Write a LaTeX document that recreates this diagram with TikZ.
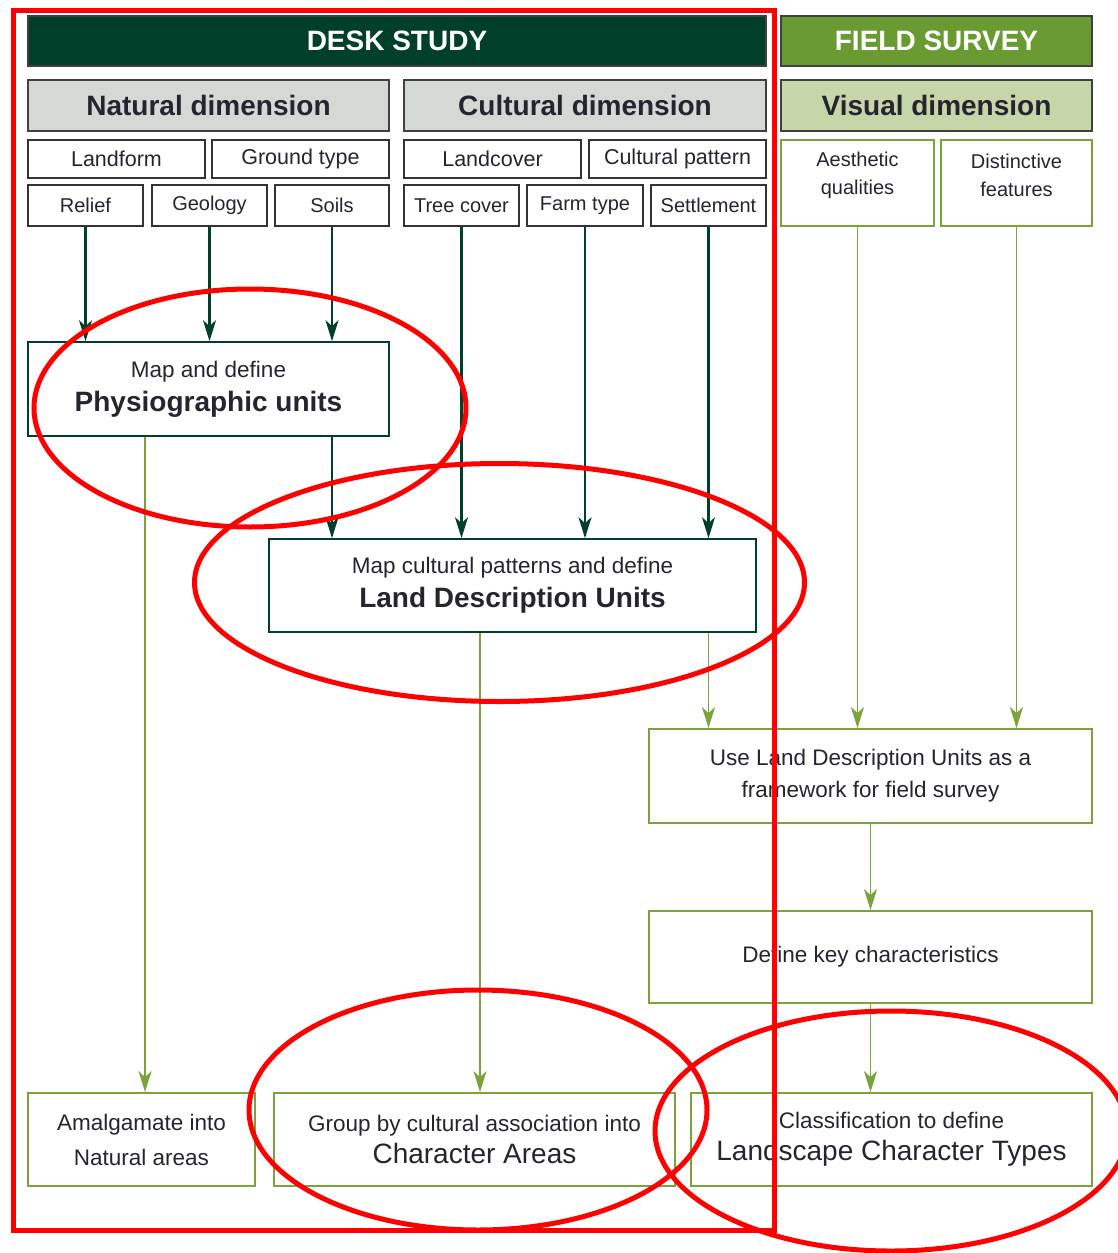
\documentclass[tikz,border=0pt]{standalone}
\usepackage{fontspec}
\setmainfont{Liberation Sans}
\usetikzlibrary{arrows.meta}
\definecolor{dkgreen}{HTML}{00402A}
\definecolor{fgreen}{HTML}{6A9A32}
\definecolor{lgreen}{HTML}{C6D6A8}
\definecolor{lgrey}{HTML}{D4D9D6}
\definecolor{lngreen}{HTML}{7AA33E}
\definecolor{txt}{HTML}{25252F}
\definecolor{redmark}{HTML}{FF0000}
\tikzset{
  hdr/.style={draw=black!75, line width=1.8pt, inner sep=0pt, font=\fontsize{28}{30}\selectfont\bfseries},
  deskbox/.style={hdr, fill=dkgreen, text=white},
  fieldbox/.style={hdr, fill=fgreen, text=white},
  dimbox/.style={hdr, fill=lgrey, text=txt},
  visbox/.style={hdr, fill=lgreen, text=txt},
  cellbox/.style={draw=black!80, line width=1.6pt, fill=white, inner sep=0pt, text=txt, font=\fontsize{21.5}{24}\selectfont},
  subbox/.style={cellbox, font=\fontsize{20}{24}\selectfont},
  gcell/.style={draw=lngreen, line width=1.8pt, fill=white, inner sep=0pt},
  gtext/.style={inner sep=0pt, text=txt, align=center, font=\fontsize{20}{28}\selectfont},
  gbox/.style={draw=lngreen, line width=1.8pt, fill=white, inner sep=0pt, text=txt, align=center, font=\fontsize{22.5}{32}\selectfont},
  dbox/.style={draw=dkgreen, line width=1.6pt, fill=white, inner sep=0pt, text=txt, align=center},
  darr/.style={draw=dkgreen, line width=2.2pt, -{Stealth[length=21pt,width=13pt,inset=6pt]}},
  garr/.style={draw=lngreen, line width=1.9pt, -{Stealth[length=21pt,width=13pt,inset=6pt]}},
  redline/.style={draw=redmark, line width=5pt}
}
\begin{document}
\begin{tikzpicture}[x=1pt,y=-1pt]
\useasboundingbox[fill=white] (0,0) rectangle (1118,1253);

% headers
\node[deskbox, minimum width=738pt, minimum height=50pt] (desk) at (397,41) {DESK STUDY};
\node[fieldbox, minimum width=311pt, minimum height=50pt] (field) at (936.5,41) {FIELD SURVEY};
\node[dimbox, minimum width=361pt, minimum height=51pt] (nat) at (208.5,105.5) {Natural dimension};
\node[dimbox, minimum width=362pt, minimum height=51pt] (cul) at (585,105.5) {Cultural dimension};
\node[visbox, minimum width=311pt, minimum height=51pt] (vis) at (936.5,105.5) {Visual dimension};

% first row of cells
\node[cellbox, minimum width=177pt, minimum height=38pt] (landform) at (116.5,159) {Landform};
\node[cellbox, minimum width=177pt, minimum height=38pt] (ground) at (300.5,159) {Ground type};
\node[cellbox, minimum width=177pt, minimum height=38pt] (landcover) at (492.5,159) {Landcover};
\node[cellbox, minimum width=177pt, minimum height=38pt] (culpat) at (677.5,159) {Cultural pattern};

% second row of cells
\node[subbox, minimum width=115pt, minimum height=41pt] (relief) at (85.5,205.5) {Relief};
\node[subbox, minimum width=115pt, minimum height=41pt] (geology) at (209.5,205.5) {Geology};
\node[subbox, minimum width=114pt, minimum height=41pt] (soils) at (332,205.5) {Soils};
\node[subbox, minimum width=115pt, minimum height=41pt] (tree) at (461.5,205.5) {Tree cover};
\node[subbox, minimum width=116pt, minimum height=41pt] (farm) at (585,205.5) {Farm type};
\node[subbox, minimum width=115pt, minimum height=41pt] (settle) at (708.5,205.5) {Settlement};

% visual cells
\node[gcell, minimum width=153pt, minimum height=86pt] (aesth) at (857.5,183) {};
\node[gtext] (aesthtxt) at (857.5,175) {Aesthetic\\qualities};
\node[gcell, minimum width=151pt, minimum height=86pt] (dist) at (1016.5,183) {};
\node[gtext] (disttxt) at (1016.5,175) {Distinctive\\features};

% process boxes
\node[dbox, minimum width=361pt, minimum height=94pt] (physio) at (208.5,389)
  {\fontsize{22.5}{30}\selectfont Map and define\\[8pt]\fontsize{28}{30}\selectfont\bfseries Physiographic units};
\node[dbox, minimum width=487pt, minimum height=93pt] (ldu) at (512.5,585.5)
  {\fontsize{22.5}{30}\selectfont Map cultural patterns and define\\[8pt]\fontsize{28}{30}\selectfont\bfseries Land Description Units};
\node[gbox, minimum width=443pt, minimum height=94pt] (use) at (870.5,776)
  {Use Land Description Units as a\\framework for field survey};
\node[gbox, minimum width=443pt, minimum height=92pt] (define) at (870.5,957)
  {Define key characteristics};
\node[gbox, minimum width=227pt, minimum height=93pt] (amal) at (141.5,1139.5)
  {Amalgamate into\\[3pt]Natural areas};
\node[gbox, minimum width=401pt, minimum height=93pt] (group) at (474.5,1139.5)
  {Group by cultural association into\\{\fontsize{28}{30}\selectfont Character Areas}};
\node[gbox, minimum width=401pt, minimum height=93pt] (class) at (891.5,1139.5)
  {Classification to define\\{\fontsize{28}{30}\selectfont Landscape Character Types}};

% dark connectors
\draw[darr] (relief.south) -- (relief.south |- physio.north);
\draw[darr] (geology.south) -- (geology.south |- physio.north);
\draw[darr] (soils.south) -- (soils.south |- physio.north);
\draw[darr] (physio.south -| soils.south) -- (ldu.north -| soils.south);
\draw[darr] (tree.south) -- (tree.south |- ldu.north);
\draw[darr] (farm.south) -- (farm.south |- ldu.north);
\draw[darr] (settle.south) -- (settle.south |- ldu.north);

% green connectors
\draw[garr] ([xshift=3.5pt]physio.south -| amal.north) -- ([xshift=3.5pt]amal.north);
\draw[garr] ([xshift=5.5pt]ldu.south -| group.north) -- ([xshift=5.5pt]group.north);
\draw[garr] (ldu.south -| settle.south) -- (use.north -| settle.south);
\draw[garr] (aesth.south) -- (aesth.south |- use.north);
\draw[garr] (dist.south) -- (dist.south |- use.north);
\draw[garr] (use.south) -- (define.north);
\draw[garr] (define.south) -- (define.south |- class.north);

% red annotations
\draw[redline] (13,10.5) rectangle (774,1230.5);
\draw[redline] (250,408) ellipse [x radius=216pt, y radius=119pt];
\draw[redline] (499.5,582.5) ellipse [x radius=305pt, y radius=119pt];
\draw[redline] (478,1110) ellipse [x radius=229pt, y radius=120pt];
\draw[redline] (891,1131) ellipse [x radius=236pt, y radius=120pt];
\end{tikzpicture}
\end{document}
